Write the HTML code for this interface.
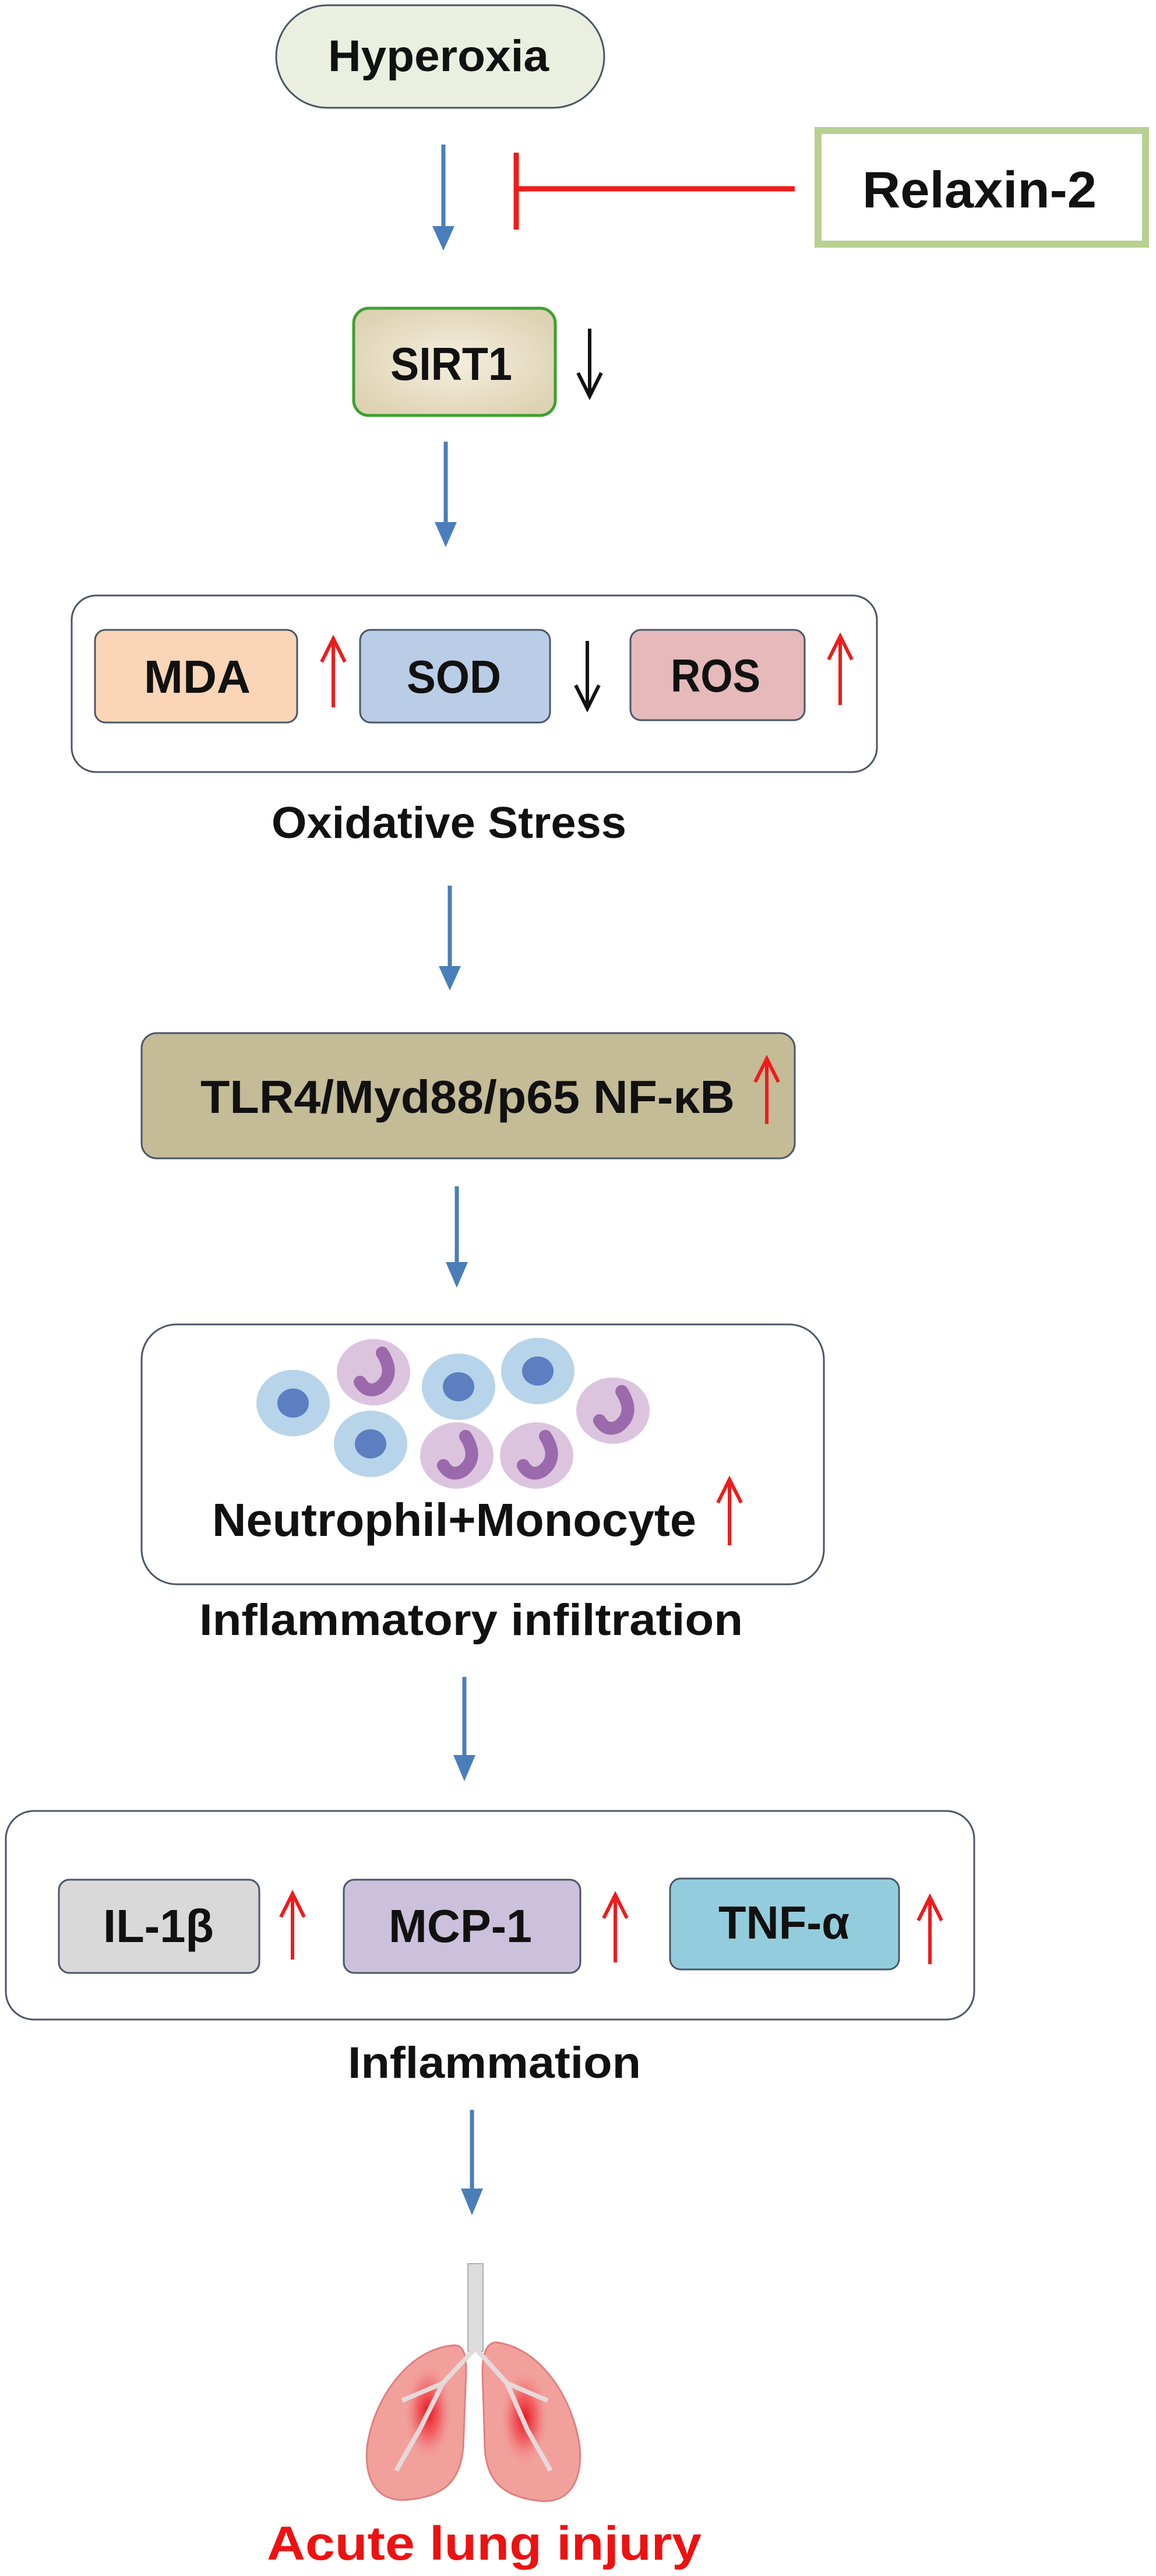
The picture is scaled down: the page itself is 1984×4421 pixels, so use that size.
<!DOCTYPE html>
<html><head><meta charset="utf-8"><style>
html,body{margin:0;padding:0;background:#fff;}
svg{display:block;}
text{font-family:"Liberation Sans",sans-serif;font-weight:bold;fill:#111;}
</style></head><body>
<svg width="1984" height="4421" viewBox="0 0 1984 4421" xmlns="http://www.w3.org/2000/svg">
<defs>
<marker id="bh" viewBox="0 0 10 10" refX="5" refY="10" markerWidth="5.5" markerHeight="7" markerUnits="strokeWidth" orient="auto-start-reverse"><path d="M0,0 L10,0 L5,10 z" fill="#4a7ebb"/></marker>
<radialGradient id="sirt" cx="50%" cy="50%" r="60%"><stop offset="0" stop-color="#f5efdf"/><stop offset="1" stop-color="#ddd2b2"/></radialGradient>
<radialGradient id="inf" cx="50%" cy="50%" r="50%"><stop offset="0" stop-color="#e8101a"/><stop offset="0.5" stop-color="#f04a50" stop-opacity="0.7"/><stop offset="1" stop-color="#f08888" stop-opacity="0"/></radialGradient>
</defs>

<!-- Hyperoxia -->
<rect x="474" y="9" width="563" height="176" rx="88" fill="#ebefdf" stroke="#4a5668" stroke-width="3"/>
<text x="563" y="122" font-size="76" textLength="379" lengthAdjust="spacingAndGlyphs">Hyperoxia</text>

<!-- arrow 1 -->
<line x1="761" y1="248" x2="761" y2="392" stroke="#4a7ebb" stroke-width="7"/>
<path d="M742,388 L780,388 L761,430 z" fill="#4a7ebb"/>

<!-- inhibition -->
<line x1="886" y1="262" x2="886" y2="394" stroke="#ee1c1c" stroke-width="9"/>
<line x1="886" y1="324" x2="1364" y2="324" stroke="#ee1c1c" stroke-width="9"/>

<!-- Relaxin-2 -->
<rect x="1404" y="224" width="562" height="195" fill="#fff" stroke="#b8d091" stroke-width="12"/>
<text x="1480" y="356" font-size="88" textLength="402" lengthAdjust="spacingAndGlyphs">Relaxin-2</text>

<!-- SIRT1 -->
<rect x="607" y="529" width="346" height="184" rx="26" fill="url(#sirt)" stroke="#3ea030" stroke-width="5"/>
<text x="670" y="652" font-size="80" textLength="209" lengthAdjust="spacingAndGlyphs">SIRT1</text>
<g stroke="#111" stroke-width="6" fill="none"><line x1="1012" y1="564" x2="1012" y2="678"/><polyline points="992,640 1012,680 1032,640"/></g>

<!-- arrow 2 -->
<line x1="765" y1="758" x2="765" y2="900" stroke="#4a7ebb" stroke-width="7"/>
<path d="M746,896 L784,896 L765,939 z" fill="#4a7ebb"/>

<!-- Oxidative box -->
<rect x="123" y="1022" width="1382" height="303" rx="42" fill="#fff" stroke="#4a5668" stroke-width="3"/>
<rect x="163" y="1081" width="347" height="159" rx="18" fill="#fad5b6" stroke="#4a5668" stroke-width="3"/>
<text x="247" y="1189" font-size="80" textLength="183" lengthAdjust="spacingAndGlyphs">MDA</text>
<rect x="618" y="1081" width="326" height="159" rx="18" fill="#b9cde6" stroke="#4a5668" stroke-width="3"/>
<text x="698" y="1189" font-size="80" textLength="162" lengthAdjust="spacingAndGlyphs">SOD</text>
<rect x="1082" y="1081" width="299" height="155" rx="18" fill="#e6b9ba" stroke="#4a5668" stroke-width="3"/>
<text x="1151" y="1187" font-size="80" textLength="154" lengthAdjust="spacingAndGlyphs">ROS</text>
<g stroke="#ee1c1c" stroke-width="6" fill="none">
<line x1="572" y1="1098" x2="572" y2="1214"/><polyline points="552,1136 572,1096 592,1136"/>
<line x1="1442" y1="1094" x2="1442" y2="1210"/><polyline points="1422,1132 1442,1092 1462,1132"/>
</g>
<g stroke="#111" stroke-width="6" fill="none"><line x1="1008" y1="1100" x2="1008" y2="1214"/><polyline points="988,1176 1008,1216 1028,1176"/></g>
<text x="466" y="1438" font-size="76" textLength="609" lengthAdjust="spacingAndGlyphs">Oxidative Stress</text>

<!-- arrow 3 -->
<line x1="772" y1="1520" x2="772" y2="1662" stroke="#4a7ebb" stroke-width="7"/>
<path d="M753,1658 L791,1658 L772,1700 z" fill="#4a7ebb"/>

<!-- TLR4 -->
<rect x="243" y="1773" width="1121" height="215" rx="26" fill="#c4bb97" stroke="#4a5668" stroke-width="3"/>
<text x="344" y="1910" font-size="80" textLength="917" lengthAdjust="spacingAndGlyphs">TLR4/Myd88/p65 NF-κB</text>
<g stroke="#ee1c1c" stroke-width="6" fill="none"><line x1="1316" y1="1819" x2="1316" y2="1929"/><polyline points="1296,1857 1316,1817 1336,1857"/></g>

<!-- arrow 4 -->
<line x1="784" y1="2036" x2="784" y2="2170" stroke="#4a7ebb" stroke-width="7"/>
<path d="M765,2166 L803,2166 L784,2210 z" fill="#4a7ebb"/>

<!-- cells box -->
<rect x="243" y="2273" width="1171" height="446" rx="60" fill="#fff" stroke="#4a5668" stroke-width="3"/>
<g>
<ellipse cx="503" cy="2408" rx="63" ry="57" fill="#b8d4ea"/><ellipse cx="503" cy="2408" rx="27" ry="25" fill="#5b7fc0"/>
<ellipse cx="787" cy="2380" rx="63" ry="57" fill="#b8d4ea"/><ellipse cx="787" cy="2380" rx="27" ry="25" fill="#5b7fc0"/>
<ellipse cx="923" cy="2353" rx="63" ry="57" fill="#b8d4ea"/><ellipse cx="923" cy="2353" rx="27" ry="25" fill="#5b7fc0"/>
<ellipse cx="636" cy="2478" rx="63" ry="57" fill="#b8d4ea"/><ellipse cx="636" cy="2478" rx="27" ry="25" fill="#5b7fc0"/>
</g>
<g>
<ellipse cx="641" cy="2355" rx="63" ry="57" fill="#dcc4df"/>
<ellipse cx="1052" cy="2421" rx="63" ry="57" fill="#dcc4df"/>
<ellipse cx="784" cy="2498" rx="63" ry="57" fill="#dcc4df"/>
<ellipse cx="921" cy="2498" rx="63" ry="57" fill="#dcc4df"/>
<g fill="none" stroke="#9a6aac" stroke-width="22" stroke-linecap="round">
<path d="M656,2322 Q680,2360 650,2382 Q630,2392 618,2372"/>
<path d="M1067,2388 Q1091,2426 1061,2448 Q1041,2458 1029,2438"/>
<path d="M799,2465 Q823,2503 793,2525 Q773,2535 761,2515"/>
<path d="M936,2465 Q960,2503 930,2525 Q910,2535 898,2515"/>
</g>
</g>
<text x="364" y="2636" font-size="80" textLength="831" lengthAdjust="spacingAndGlyphs">Neutrophil+Monocyte</text>
<g stroke="#ee1c1c" stroke-width="6" fill="none"><line x1="1252" y1="2541" x2="1252" y2="2652"/><polyline points="1232,2579 1252,2539 1272,2579"/></g>
<text x="342" y="2806" font-size="76" textLength="933" lengthAdjust="spacingAndGlyphs">Inflammatory infiltration</text>

<!-- arrow 5 -->
<line x1="797" y1="2878" x2="797" y2="3016" stroke="#4a7ebb" stroke-width="7"/>
<path d="M778,3012 L816,3012 L797,3057 z" fill="#4a7ebb"/>

<!-- Inflammation box -->
<rect x="10" y="3108" width="1662" height="358" rx="48" fill="#fff" stroke="#4a5668" stroke-width="3"/>
<rect x="101" y="3226" width="344" height="160" rx="18" fill="#d9d9d9" stroke="#4a5668" stroke-width="3"/>
<text x="177" y="3333" font-size="80" textLength="190" lengthAdjust="spacingAndGlyphs">IL-1β</text>
<rect x="590" y="3226" width="406" height="160" rx="18" fill="#ccc1dc" stroke="#4a5668" stroke-width="3"/>
<text x="667" y="3333" font-size="80" textLength="246" lengthAdjust="spacingAndGlyphs">MCP-1</text>
<rect x="1150" y="3224" width="393" height="156" rx="18" fill="#93cddd" stroke="#4a5668" stroke-width="3"/>
<text x="1233" y="3327" font-size="80" textLength="225" lengthAdjust="spacingAndGlyphs">TNF-α</text>
<g stroke="#ee1c1c" stroke-width="6" fill="none">
<line x1="502" y1="3252" x2="502" y2="3363"/><polyline points="482,3290 502,3250 522,3290"/>
<line x1="1056" y1="3254" x2="1056" y2="3368"/><polyline points="1036,3292 1056,3252 1076,3292"/>
<line x1="1596" y1="3258" x2="1596" y2="3371"/><polyline points="1576,3296 1596,3256 1616,3296"/>
</g>
<text x="597" y="3566" font-size="76" textLength="503" lengthAdjust="spacingAndGlyphs">Inflammation</text>

<!-- arrow 6 -->
<line x1="810" y1="3621" x2="810" y2="3760" stroke="#4a7ebb" stroke-width="7"/>
<path d="M791,3756 L829,3756 L810,3802 z" fill="#4a7ebb"/>

<!-- lungs -->
<path d="M780,4025 C700,4030 640,4120 630,4200 C625,4260 650,4295 700,4290 C760,4285 790,4260 795,4200 L800,4070 C800,4040 795,4025 780,4025 z" fill="#f2a09c" stroke="#e08080" stroke-width="3"/>
<path d="M852,4020 C930,4030 985,4120 995,4200 C1000,4260 975,4298 925,4292 C865,4285 835,4260 832,4200 L828,4070 C828,4040 835,4020 852,4020 z" fill="#f2a09c" stroke="#e08080" stroke-width="3"/>
<ellipse cx="735" cy="4140" rx="40" ry="80" fill="url(#inf)"/>
<ellipse cx="900" cy="4150" rx="40" ry="80" fill="url(#inf)"/>
<rect x="803" y="3885" width="26" height="150" fill="#dcdcdc" stroke="#b0b0b0" stroke-width="2"/>
<path d="M816,4030 L760,4090 L720,4170 M816,4030 L870,4090 L905,4170 M760,4090 L690,4120 M870,4090 L940,4120 M720,4170 L680,4240 M905,4170 L945,4240" stroke="#e6d9d9" stroke-width="8" fill="none"/>
<text x="458" y="4393" font-size="82" textLength="746" lengthAdjust="spacingAndGlyphs" style="fill:#ee1111">Acute lung injury</text>
</svg>
</body></html>
